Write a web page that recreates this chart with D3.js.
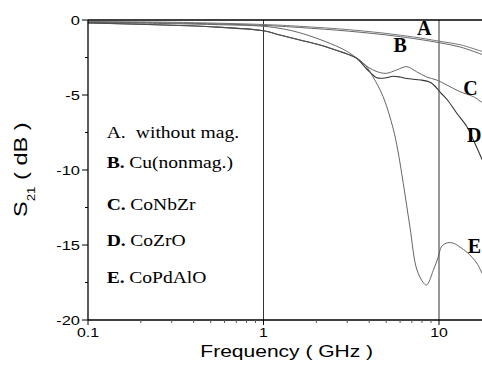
<!DOCTYPE html>
<html><head><meta charset="utf-8">
<script src="https://cdn.jsdelivr.net/npm/d3@7"></script>
<style>
html,body{margin:0;padding:0;background:#fff;}
svg{display:block;}
</style></head>
<body>
<svg id="chart" width="482" height="368"></svg>
<script>
// ---- data (frequency GHz, S21 dB) ----
const seriesA = [[0.1,-0.1],[0.3,-0.15],[1,-0.3],[1.61,-0.42],[3.1,-0.65],[5.47,-0.95],[7.8,-1.2],[10.1,-1.42],[13.2,-1.65],[17.6,-2.1]];
const seriesB = [[0.1,-0.15],[0.3,-0.2],[1,-0.36],[1.61,-0.5],[3.1,-0.75],[5.47,-1.05],[7.8,-1.3],[10.1,-1.52],[13.2,-1.8],[17.6,-2.3]];
const seriesC = [[0.1,-0.15],[0.5,-0.3],[1,-0.42],[1.3,-0.6],[1.61,-0.85],[2.1,-1.3],[2.73,-1.85],[3.1,-2.2],[3.4,-2.55],[4.04,-3.22],[4.6,-3.5],[5.04,-3.55],[5.74,-3.33],[6.55,-3.11],[7.46,-3.45],[8.5,-3.8],[9.7,-4.0],[11.06,-4.33],[13.18,-4.78],[15.68,-5.11],[17.6,-5.5]];
const seriesD = [[0.1,-0.2],[0.5,-0.45],[1,-0.72],[1.24,-1.0],[1.61,-1.33],[2.1,-1.67],[2.73,-2.1],[3.1,-2.33],[3.4,-2.55],[3.9,-3.3],[4.42,-3.85],[5.0,-3.85],[5.47,-3.75],[6.0,-3.8],[6.55,-3.9],[7.89,-4.0],[8.89,-4.15],[9.37,-4.35],[10.26,-4.87],[11.2,-5.35],[12.6,-6.2],[14.4,-7.1],[15.7,-8.0],[17.6,-9.3]];
const seriesE = [[0.1,-0.2],[0.5,-0.45],[1,-0.72],[1.24,-1.0],[1.61,-1.33],[2.1,-1.67],[2.73,-2.1],[3.1,-2.33],[3.4,-2.55],[3.8,-3.0],[4.21,-3.8],[4.8,-5.1],[5.47,-7.2],[5.82,-8.67],[6.26,-10.9],[6.83,-13.8],[7.46,-16.6],[8.13,-17.5],[8.5,-17.67],[9.27,-16.7],[9.9,-15.8],[10.35,-15.1],[11.2,-14.85],[12.2,-14.9],[13.2,-15.15],[14.5,-15.5],[16.4,-16.2],[17.6,-16.9]];

const legendKeys = ["A.","B.","C.","D.","E."];
const legendNames = ["without mag.","Cu(nonmag.)","CoNbZr","CoZrO","CoPdAlO"];
const curveLetters = ["A","B","C","D","E"];
// label anchor points (frequency, dB)
const letterPos = [[7.5,-1.0],[5.5,-2.1],[13.75,-5.0],[14.44,-8.1],[14.6,-15.55]];

const xTicks = [0.1,1,10];
const xTickLabels = ["0.1","1","10"];
const yTicks = [0,-5,-10,-15,-20];
const yMinorTicks = [-2.5,-7.5,-12.5,-17.5];
const xMinorTicks = [0.2,0.3,0.4,0.5,0.6,0.7,0.8,0.9,2,3,4,5,6,7,8,9];

// ---- layout ----
const svg = d3.select("#chart");
const x = d3.scaleLog().domain([0.1,20]).range([88, 88 + 175.5*Math.log10(200)]);
const y = d3.scaleLinear().domain([-20,0]).range([320,20]);
const x0 = 88, x1 = 482, yTop = y(0), yBot = y(-20);

// vertical lines at decades
svg.append("g").selectAll("line").data([1,10]).join("line")
  .attr("x1", d=>x(d)).attr("x2", d=>x(d)).attr("y1", yTop).attr("y2", yBot)
  .attr("stroke","#333").attr("stroke-width",1);

// curves
const line = d3.line().x(d=>x(d[0])).y(d=>y(d[1])).curve(d3.curveCatmullRom.alpha(0.5));
const allSeries = [seriesA, seriesB, seriesC, seriesD, seriesE];
const strokes = ["#777","#666","#666","#333","#555"];
const widths = [1,1,1,1.1,0.9];
svg.append("g").selectAll("path").data(allSeries).join("path")
  .attr("d", line).attr("fill","none")
  .attr("stroke",(d,i)=>strokes[i]).attr("stroke-width",(d,i)=>widths[i]);

// axes frame
svg.append("line").attr("x1",x0).attr("x2",x1).attr("y1",yTop).attr("y2",yTop).attr("stroke","#000").attr("stroke-width",1.3);
svg.append("line").attr("x1",x0).attr("x2",x1).attr("y1",yBot).attr("y2",yBot).attr("stroke","#000").attr("stroke-width",1.3);
svg.append("line").attr("x1",x0).attr("x2",x0).attr("y1",yTop).attr("y2",yBot).attr("stroke","#000").attr("stroke-width",1.3);

// y ticks
const gy = svg.append("g");
gy.selectAll("line.maj").data(yTicks).join("line").attr("class","maj")
  .attr("x1",x0-6).attr("x2",x0).attr("y1",d=>y(d)).attr("y2",d=>y(d)).attr("stroke","#000");
gy.selectAll("line.min").data(yMinorTicks).join("line").attr("class","min")
  .attr("x1",x0-3).attr("x2",x0).attr("y1",d=>y(d)).attr("y2",d=>y(d)).attr("stroke","#000");
gy.selectAll("text").data(yTicks).join("text")
  .attr("transform", d=>`translate(80,${y(d)+5}) scale(1.22,1)`)
  .attr("text-anchor","end")
  .style("font-family","'Liberation Sans', Arial, sans-serif").style("font-size","13.5px")
  .text(d=>d);

// x ticks
const gx = svg.append("g");
gx.selectAll("line.maj").data(xTicks).join("line").attr("class","maj")
  .attr("x1",d=>x(d)).attr("x2",d=>x(d)).attr("y1",yBot).attr("y2",yBot+5).attr("stroke","#000");
gx.selectAll("line.min").data(xMinorTicks).join("line").attr("class","min")
  .attr("x1",d=>x(d)).attr("x2",d=>x(d)).attr("y1",yBot).attr("y2",yBot+3).attr("stroke","#555");
gx.selectAll("text").data(xTicks).join("text")
  .attr("transform", d=>`translate(${x(d)},337) scale(1.22,1)`)
  .attr("text-anchor","middle")
  .style("font-family","'Liberation Sans', Arial, sans-serif").style("font-size","13px")
  .text((d,i)=>xTickLabels[i]);

// axis titles
svg.append("text")
  .attr("transform","translate(286.7,356.5) scale(1.236,1)")
  .attr("text-anchor","middle")
  .style("font-family","'Liberation Sans', Arial, sans-serif").style("font-size","17px")
  .text("Frequency ( GHz )");

const yl = svg.append("text")
  .attr("transform","translate(27,217) rotate(-90) scale(1.33,1)")
  .attr("text-anchor","start")
  .style("font-family","'Liberation Sans', Arial, sans-serif").style("font-size","17.7px");
yl.append("tspan").text("S");
yl.append("tspan").attr("dy",8).style("font-size","10px").text("21");
yl.append("tspan").attr("dy",-8).text(" ( dB )");

// legend
const legendBaselines = [138.3,168.3,210,246.3,283];
const lg = svg.append("g");
legendKeys.forEach((k,i)=>{
  const t = lg.append("text")
    .attr("transform",`translate(106.7,${legendBaselines[i]}) scale(1.12,1)`)
    .style("font-family","'Liberation Serif', 'Times New Roman', serif").style("font-size","17.5px");
  t.append("tspan").style("font-weight", i===0 ? "normal" : "bold").text(k);
  t.append("tspan").attr("dx", i===0 ? 9 : 4).text(legendNames[i]);
});

// curve letters
svg.append("g").selectAll("text").data(curveLetters).join("text")
  .attr("x",(d,i)=>x(letterPos[i][0])).attr("y",(d,i)=>y(letterPos[i][1]))
  .style("font-family","'Liberation Serif', 'Times New Roman', serif").style("font-size","20px").style("font-weight","bold")
  .text(d=>d);
</script>
</body></html>
